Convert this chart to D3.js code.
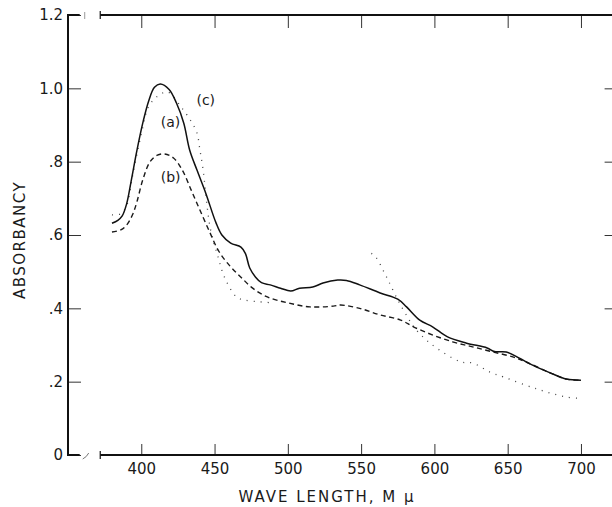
<!DOCTYPE html>
<html>
<head>
<meta charset="utf-8">
<script src="https://cdn.jsdelivr.net/npm/d3@7"></script>
<style>
body { margin: 0; background: #fff; }
svg text { font-family: 'DejaVu Sans', sans-serif; fill: #1a1a1a; }
</style>
</head>
<body>
<script>
// curve (a), solid
var wlA = [380, 384, 387, 390, 393, 397, 401, 405, 409, 413, 419, 424, 429, 433, 438, 444, 451, 455, 461, 468, 471, 474, 478, 482, 488, 495, 502, 508, 517, 524, 534, 540, 549, 563, 575, 581, 590, 599, 609, 622, 636, 641, 649, 658, 667, 679, 690, 700]
var absA = [.632, .640, .652, .685, .745, .830, .905, .965, 1.003, 1.012, .997, .96, .905, .832, .777, .714, .633, .60, .578, .567, .55, .51, .485, .47, .464, .455, .447, .455, .458, .469, .477, .476, .464, .442, .425, .404, .368, .349, .322, .305, .292, .282, .281, .264, .245, .224, .207, .204]

// curve (b), dashed
var wlB = [380, 386, 390, 394, 397, 401, 406, 411, 416, 422, 428, 434, 440, 447, 453, 461, 468, 476, 486, 500, 515, 531, 536, 549, 563, 577, 586, 599, 613, 626, 640, 654, 663, 679, 690, 700]
var absB = [.608, .614, .627, .655, .690, .750, .80, .818, .821, .81, .777, .723, .668, .605, .555, .513, .485, .455, .431, .415, .404, .406, .409, .40, .382, .368, .349, .327, .308, .295, .281, .267, .253, .224, .207, .204]

// curve (c), dotted (null = not visible)
var wlC = [380, 386, 390, 394, 400, 405, 411, 418, 427, 434, 438, 440, 442, 447, 452, 457, 465, 470, 480, 490, 520, 557, 560, 566, 569, 575, 582, 586, 597, 618, 626, 638, 647, 670, 690, 699]
var absC = [.655, .658, .680, .760, .875, .95, .978, .99, .95, .91, .878, .832, .783, .62, .545, .483, .431, .423, .418, .415, null, .55, .54, .496, .472, .423, .374, .349, .305, .254, .251, .226, .213, .18, .158, .155]

var xTicks = [400, 450, 500, 550, 600, 650, 700]
var yTicks = [0, .2, .4, .6, .8, 1.0, 1.2]
var yTickLabels = ['0', '.2', '.4', '.6', '.8', '1.0', '1.2']

var curveNames = ['(a)', '(b)', '(c)']
var labelWl = [420, 420, 444]
var labelAbs = [.908, .758, .968]

var axisBreak = [358, 372]

var width = 612, height = 507

var x = d3.scaleLinear()
.domain([350, 725])
.range([68, 617.6])

var y = d3.scaleLinear()
.domain([0, 1.2])
.range([455, 15])

var svg = d3.select('body').append('svg')
.attr('width', width)
.attr('height', height)

function styleAxis (g) {
  g.select('.domain').remove()
  g.selectAll('.tick line').attr('stroke', '#333').attr('stroke-width', 1)
  g.selectAll('.tick text')
  .style('font-family', "'DejaVu Sans', sans-serif")
  .style('font-size', '15px')
  .attr('fill', '#1a1a1a')
}

// left axis
svg.append('g')
.attr('transform', 'translate(' + x(350) + ',0)')
.call(d3.axisLeft(y).tickValues(yTicks)
  .tickSizeInner(-13).tickSizeOuter(0).tickPadding(5)
  .tickFormat(function (d, i) { return yTickLabels[i] }))
.call(styleAxis)

// right axis (ticks only)
svg.append('g')
.attr('transform', 'translate(' + x(725) + ',0)')
.call(d3.axisRight(y).tickValues(yTicks.slice(1, 6))
  .tickSizeInner(-13).tickSizeOuter(0).tickFormat(''))
.call(styleAxis)

// bottom axis
svg.append('g')
.attr('transform', 'translate(0,' + y(0) + ')')
.call(d3.axisBottom(x).tickValues(xTicks)
  .tickSizeInner(-11).tickSizeOuter(0).tickPadding(8))
.call(styleAxis)

// top axis (ticks only)
svg.append('g')
.attr('transform', 'translate(0,' + y(1.2) + ')')
.call(d3.axisTop(x).tickValues(xTicks)
  .tickSizeInner(-13).tickSizeOuter(0).tickFormat(''))
.call(styleAxis)

// frame lines, broken near the origin
var frame = svg.append('g')
.attr('stroke', '#111')
.attr('stroke-width', 2)
.attr('fill', 'none')

frame.append('line')
.attr('x1', x(350)).attr('x2', x(350))
.attr('y1', y(1.2)).attr('y2', y(0))

;[0, 1.2].forEach(function (v) {
  frame.append('line')
  .attr('x1', x(350) - 1).attr('x2', x(axisBreak[0]))
  .attr('y1', y(v)).attr('y2', y(v))
  frame.append('line')
  .attr('x1', x(axisBreak[1])).attr('x2', x(725))
  .attr('y1', y(v)).attr('y2', y(v))
  frame.append('line')
  .attr('stroke-width', 1.2)
  .attr('x1', x(axisBreak[1])).attr('x2', x(axisBreak[1]))
  .attr('y1', y(v) - 4).attr('y2', y(v) + 4)
})

// squiggle marks at the break
frame.append('path')
.attr('stroke-width', 1)
.attr('stroke', '#777')
.attr('d', 'M' + (x(axisBreak[0]) + 3) + ',' + (y(0) + 4) + ' q4,-2 6,-6')
frame.append('line')
.attr('stroke-width', 1)
.attr('stroke', '#999')
.attr('x1', x(axisBreak[0]) + 5).attr('x2', x(axisBreak[0]) + 5)
.attr('y1', y(1.2) - 3).attr('y2', y(1.2) + 4)

function series (wl, ab) {
  return wl.map(function (w, i) { return {wl: w, ab: ab[i]} })
}

var line = d3.line()
.defined(function (d) { return d.ab !== null })
.x(function (d) { return x(d.wl) })
.y(function (d) { return y(d.ab) })
.curve(d3.curveCatmullRom.alpha(0.5))

svg.append('path')
.datum(series(wlC, absC))
.attr('fill', 'none')
.attr('stroke', '#444')
.attr('stroke-width', 1.3)
.attr('stroke-dasharray', '1,6')
.attr('d', line)

svg.append('path')
.datum(series(wlB, absB))
.attr('fill', 'none')
.attr('stroke', '#1a1a1a')
.attr('stroke-width', 1.4)
.attr('stroke-dasharray', '5,3.5')
.attr('d', line)

svg.append('path')
.datum(series(wlA, absA))
.attr('fill', 'none')
.attr('stroke', '#111')
.attr('stroke-width', 1.5)
.attr('d', line)

svg.selectAll('text.curve-label')
.data(curveNames)
.enter().append('text')
.attr('class', 'curve-label')
.attr('x', function (d, i) { return x(labelWl[i]) })
.attr('y', function (d, i) { return y(labelAbs[i]) })
.attr('dy', '0.35em')
.attr('text-anchor', 'middle')
.style('font-size', '14px')
.text(function (d) { return d })

// axis titles
svg.append('text')
.attr('x', 327)
.attr('y', 497)
.attr('dy', '0.35em')
.attr('text-anchor', 'middle')
.style('font-size', '15px')
.style('letter-spacing', '2px')
.text('WAVE LENGTH, M \u03bc')

svg.append('text')
.attr('transform', 'translate(20,240) rotate(-90)')
.attr('dy', '0.35em')
.attr('text-anchor', 'middle')
.style('font-size', '15px')
.style('letter-spacing', '1.5px')
.text('ABSORBANCY')
</script>
</body>
</html>
